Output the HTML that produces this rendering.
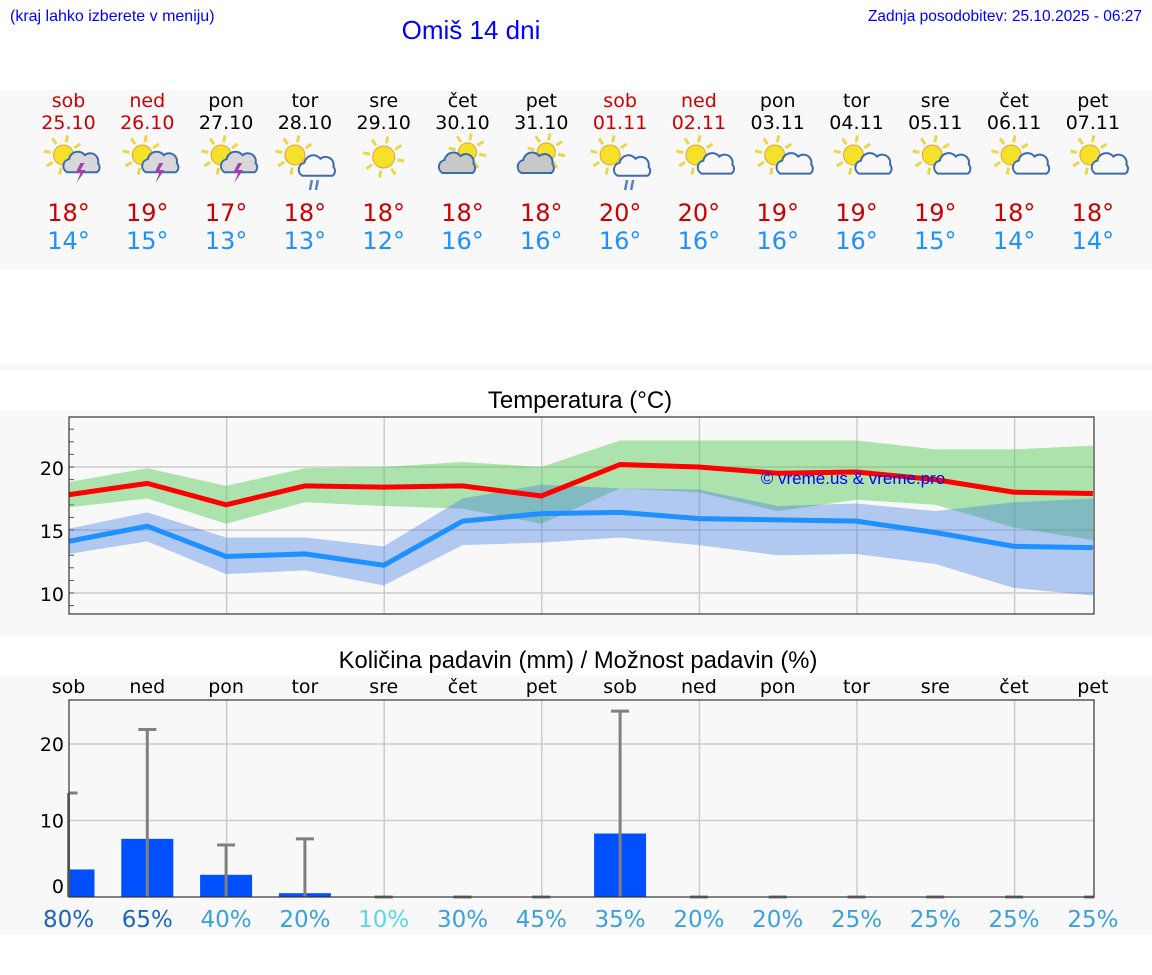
<!DOCTYPE html>
<html><head><meta charset="utf-8">
<style>
body{margin:0;width:1152px;height:975px;background:#fff;overflow:hidden;font-family:"DejaVu Sans",sans-serif;}
svg{display:block}
</style></head>
<body>
<svg id="s" width="1152" height="975" xmlns="http://www.w3.org/2000/svg">
<rect x="0" y="90" width="1152" height="180" fill="#f8f8f8"/>
<rect x="0" y="365" width="1152" height="5" fill="#f8f8f8"/>
<rect x="0" y="410" width="1152" height="225" fill="#f8f8f8"/>
<rect x="0" y="675" width="1152" height="260" fill="#f8f8f8"/>
<text x="10" y="21" font-family="Liberation Sans, sans-serif" font-size="16" fill="#0000ff">(kraj lahko izberete v meniju)</text>
<text x="471" y="39" text-anchor="middle" font-family="Liberation Sans, sans-serif" font-size="26" fill="#0000ff">Omiš 14 dni</text>
<text x="1142" y="21" text-anchor="end" font-family="Liberation Sans, sans-serif" font-size="15.5" fill="#0000ff">Zadnja posodobitev: 25.10.2025 - 06:27</text>
<text x="580" y="408" text-anchor="middle" font-family="Liberation Sans, sans-serif" font-size="24" fill="#000">Temperatura (°C)</text>
<text x="578" y="668" text-anchor="middle" font-family="Liberation Sans, sans-serif" font-size="23.8" fill="#000">Količina padavin (mm) / Možnost padavin (%)</text>
<g id="days"></g>
<g id="temp"></g>
<g id="prec"></g>
</svg>
<script>
const dayNames=["sob","ned","pon","tor","sre","čet","pet","sob","ned","pon","tor","sre","čet","pet"];
const dates=["25.10","26.10","27.10","28.10","29.10","30.10","31.10","01.11","02.11","03.11","04.11","05.11","06.11","07.11"];
const weekend=[1,1,0,0,0,0,0,1,1,0,0,0,0,0];
const icons=["storm","storm","storm","rain","sun","cloudy","cloudy","rain","few","few","few","few","few","few"];
const tMax=[17.8,18.7,17.0,18.5,18.4,18.5,17.7,20.2,20.0,19.5,19.6,19.0,18.0,17.9];
const tMaxHi=[18.8,19.9,18.5,19.9,20.0,20.4,20.0,22.1,22.1,22.1,22.1,21.4,21.4,21.7];
const tMaxLo=[16.8,17.5,15.5,17.2,16.9,16.7,15.5,18.3,18.0,16.5,17.4,17.0,15.2,14.2];
const tMin=[14.1,15.3,12.9,13.1,12.2,15.7,16.3,16.4,15.9,15.8,15.7,14.8,13.7,13.6];
const tMinHi=[15.1,16.4,14.4,14.4,13.7,17.5,18.6,18.3,18.2,16.9,17.1,16.5,17.2,17.5];
const tMinLo=[13.1,14.1,11.5,11.8,10.6,13.8,14.0,14.4,13.8,13.0,13.1,12.3,10.4,9.8];
const dayMax=[18,19,17,18,18,18,18,20,20,19,19,19,18,18];
const dayMin=[14,15,13,13,12,16,16,16,16,16,16,15,14,14];
const tempTicks=[10,15,20];
const precip=[3.6,7.6,2.9,0.5,0,0,0,8.3,0,0,0,0,0,0];
const precipMax=[13.6,21.9,6.8,7.6,0,0,0,24.3,0,0,0,0,0,0];
const chance=[80,65,40,20,10,30,45,35,20,20,25,25,25,25];
const precTicks=[0,10,20];

const NS="http://www.w3.org/2000/svg";
function mk(tag,attrs,parent,text){const e=document.createElementNS(NS,tag);for(const k in attrs)e.setAttribute(k,attrs[k]);if(text!==undefined)e.textContent=text;parent.appendChild(e);return e;}
const X=i=>68.5+78.8*i;
const PL=69,PR=1094;
const dg=document.getElementById('days');
function sun(g,cx,cy,r){
  for(let k=0;k<8;k++){const a=k*Math.PI/4+0.2;mk('line',{x1:cx+Math.cos(a)*(r+3),y1:cy+Math.sin(a)*(r+3),x2:cx+Math.cos(a)*(r+10),y2:cy+Math.sin(a)*(r+10),stroke:'#e8d84a','stroke-width':3},g);}
  mk('circle',{cx:cx,cy:cy,r:r,fill:'#f5e12a',stroke:'#e8a030','stroke-width':1},g);
}
function cloud(g,cx,cy,s,fill){
  mk('path',{d:`M${cx-15*s},${cy+8*s} a7 7 0 0 1 2,-13 a9 9 0 0 1 16,-4 a8 8 0 0 1 13,8 a6 6 0 0 1 -1,9 z`,fill:fill,stroke:'#3d6bb0','stroke-width':2},g);
}
for(let i=0;i<14;i++){
  const g=mk('g',{},dg);
  
  
  const col=weekend[i]?'#cc0000':'#000';
  mk('text',{x:X(i),y:107,'text-anchor':'middle','font-size':19,fill:col},g,dayNames[i]);
  mk('text',{x:X(i),y:129,'text-anchor':'middle','font-size':19,fill:col},g,dates[i]);
  const ig=mk('g',{},g);
  
  
  const cx=X(i),t=icons[i];
  if(t==='sun'){sun(ig,cx,157,11);}
  else if(t==='cloudy'){sun(ig,cx+5,152,9);cloud(ig,cx-5,165,1,'#c8c8c8');}
  else if(t==='storm'){sun(ig,cx-5,155,10);cloud(ig,cx+12,165,0.9,'#d8d8d8');mk('path',{d:`M${cx+12},163 l-5,10 h5 l-4,10 l9,-13 h-5 l4,-7z`,fill:'#a040b0'},ig);}
  else if(t==='rain'){sun(ig,cx-10,155,10);cloud(ig,cx+14,167,1.1,'#f8f8f8');mk('path',{d:`M${cx+7},180 l-2,10 M${cx+13},180 l-2,10`,stroke:'#5a7fc0','stroke-width':2.5},ig);}
  else {sun(ig,cx-3,155,10);cloud(ig,cx+13,168,0.7,'#f8f8f8');}
  mk('text',{x:X(i),y:221,'text-anchor':'middle','font-size':24,fill:'#cc0000'},g,dayMax[i]+'°');
  mk('text',{x:X(i),y:249,'text-anchor':'middle','font-size':24,fill:'#1e90ff'},g,dayMin[i]+'°');
}
const tg=document.getElementById('temp');
const TT=417,TB=614;
const YT=t=>467-(t-20)*12.6;
mk('rect',{x:PL,y:TT,width:PR-PL,height:TB-TT,fill:'#f8f8f8'},tg);
for(let k=2;k<14;k+=2){mk('line',{x1:X(k)+0.5,x2:X(k)+0.5,y1:TT,y2:TB,stroke:'#ccc','stroke-width':1.5},tg);}
tempTicks.forEach(v=>{
  const l=mk('line',{x1:PL,x2:PR,y1:YT(v),y2:YT(v),stroke:'#ccc','stroke-width':1.5},tg);
  
  const tx=mk('text',{x:64,y:YT(v)+8,'text-anchor':'end','font-size':19,fill:'#000'},tg,String(v));
  
});
for(let v=9;v<=23;v++){mk('line',{x1:PL,x2:PL+5,y1:YT(v),y2:YT(v),stroke:'#555','stroke-width':1},tg);}
function band(hi,lo,fill,name){
  let d='M'+hi.map((v,i)=>X(i)+','+YT(v)).join(' L')+' L'+lo.map((v,i)=>X(i)+','+YT(v)).reverse().join(' L')+'Z';
  const p=mk('path',{d:d,fill:fill},tg);
  
}
band(tMaxHi,tMaxLo,'rgba(80,200,80,0.45)','max-temp-range');
band(tMinHi,tMinLo,'rgba(60,120,230,0.38)','min-temp-range');
function line(arr,col,name){
  const p=mk('polyline',{points:arr.map((v,i)=>X(i)+','+YT(v)).join(' '),fill:'none',stroke:col,'stroke-width':5},tg);
  
}
line(tMin,'#1e90ff','min-temp-line');
line(tMax,'#ff0000','max-temp-line');
const wm=mk('text',{x:853,y:484,'text-anchor':'middle','font-family':'Liberation Sans, sans-serif','font-size':17,fill:'#0000ff'},tg,'© vreme.us & vreme.pro');

mk('rect',{x:PL,y:TT,width:PR-PL,height:TB-TT,fill:'none',stroke:'#333','stroke-width':1.2},tg);
const pg=document.getElementById('prec');
const PT=700,PB=897;
const YP=v=>PB-v*7.65;
mk('rect',{x:PL,y:PT,width:PR-PL,height:PB-PT,fill:'#f8f8f8'},pg);
for(let k=2;k<14;k+=2){mk('line',{x1:X(k)+0.5,x2:X(k)+0.5,y1:PT,y2:PB,stroke:'#ccc','stroke-width':1.5},pg);}
precTicks.forEach(v=>{
  if(v>0){mk('line',{x1:PL,x2:PR,y1:YP(v),y2:YP(v),stroke:'#ccc','stroke-width':1.5},pg);}
  const tx=mk('text',{x:64,y:YP(v)+(v===0?-4:7),'text-anchor':'end','font-size':19,fill:'#000'},pg,String(v));
  
});
const chCol=c=>c>=60?'#1a66c0':(c<=10?'#5ad8e8':'#3aa0e0');
for(let i=0;i<14;i++){
  const dn=mk('text',{x:X(i),y:693,'text-anchor':'middle','font-size':19,fill:'#000'},pg,dayNames[i]);
  
  if(precip[i]>0){
    const x0=Math.max(PL,X(i)-26),x1=Math.min(PR,X(i)+26);
    const b=mk('rect',{x:x0,y:YP(precip[i]),width:x1-x0,height:PB-YP(precip[i]),fill:'#0050ff'},pg);
    
  }
  const e=mk('path',{d:`M${X(i)},${PB} V${YP(precipMax[i])} M${Math.max(PL,X(i)-9)},${YP(precipMax[i])} H${Math.min(PR,X(i)+9)}`,stroke:'#808080','stroke-width':3,fill:'none'},pg);
  
  const c=mk('text',{x:X(i),y:927,'text-anchor':'middle','font-size':23,fill:chCol(chance[i])},pg,chance[i]+'%');
  
}
mk('rect',{x:PL,y:PT,width:PR-PL,height:PB-PT,fill:'none',stroke:'#333','stroke-width':1.2},pg);
</script>
</body></html>
